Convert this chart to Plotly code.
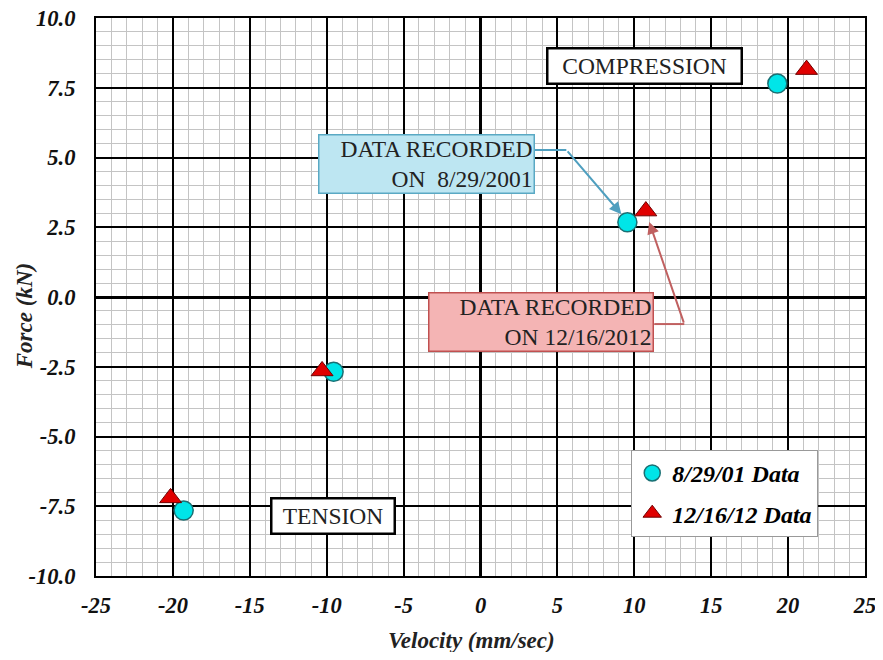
import plotly.graph_objects as go

# Data
vel_2001 = [19.3, 9.55, -9.55, -19.3]
force_2001 = [7.65, 2.68, -2.68, -7.65]
vel_2012 = [21.2, 10.75, -10.3, -20.15]
force_2012 = [8.15, 3.08, -2.65, -7.2]

x_ticks = [-25, -20, -15, -10, -5, 0, 5, 10, 15, 20, 25]
y_ticks = [10.0, 7.5, 5.0, 2.5, 0.0, -2.5, -5.0, -7.5, -10.0]

SERIF = "Liberation Serif, Times New Roman, serif"

fig = go.Figure()
fig.add_trace(go.Scatter(
    x=vel_2001, y=force_2001, mode="markers", name="8/29/01 Data", legendgroup="a",
    marker=dict(symbol="circle", size=19, color="#00e5e8",
                line=dict(color="#1a6f73", width=1.5)),
))
fig.add_trace(go.Scatter(
    x=vel_2012, y=force_2012, mode="markers", name="12/16/12 Data", legendgroup="b",
    marker=dict(symbol="triangle-up", size=19, color="#e00000",
                line=dict(color="#700000", width=1)),
))

tickfont = dict(family=SERIF, size=22.5, color="#111", weight="bold", style="italic")

fig.update_xaxes(
    range=[-25, 25], tickvals=x_ticks, ticktext=[str(v) for v in x_ticks],
    showgrid=True, gridcolor="black", gridwidth=1.6,
    minor=dict(dtick=1, showgrid=True, gridcolor="#c4c4c4", gridwidth=1.3),
    zeroline=True, zerolinecolor="black", zerolinewidth=2.5,
    showline=True, linecolor="black", linewidth=2.2, mirror=True,
    ticks="", tickfont=tickfont, ticklabelstandoff=8, automargin=False,
    ticklabeloverflow="allow",
)
fig.update_yaxes(
    range=[-10, 10], tickvals=y_ticks, ticktext=[f"{v:.1f}" for v in y_ticks],
    showgrid=True, gridcolor="black", gridwidth=1.6,
    minor=dict(dtick=0.5, showgrid=True, gridcolor="#c4c4c4", gridwidth=1.3),
    zeroline=True, zerolinecolor="black", zerolinewidth=2.5,
    showline=True, linecolor="black", linewidth=2.2, mirror=True,
    ticks="", tickfont=tickfont, ticklabelstandoff=14, automargin=False,
    ticklabeloverflow="allow",
)

txtfont = dict(family=SERIF, size=23.5, color="#222")
titlefont = dict(family=SERIF, size=23, color="#222", weight="bold", style="italic")

annotations = [
    dict(x=0.488, y=-0.1147, xref="paper", yref="paper", text="Velocity (mm/sec)",
         showarrow=False, font=titlefont, xanchor="center", yanchor="middle"),
    dict(x=-0.092, y=0.466, xref="paper", yref="paper", text="Force (kN)",
         showarrow=False, font=titlefont, textangle=-90, xanchor="center", yanchor="middle"),
    dict(x=10.68, y=8.28, text="COMPRESSION", showarrow=False, font=txtfont,
         bgcolor="white", bordercolor="black", borderwidth=2.5, borderpad=0,
         width=192, height=33),
    dict(x=-9.61, y=-7.85, text="TENSION", showarrow=False, font=txtfont,
         bgcolor="white", bordercolor="black", borderwidth=2.5, borderpad=0,
         width=121, height=33),
    dict(x=-3.54, y=4.75, text="DATA RECORDED<br>ON  8/29/2001", showarrow=False,
         font=txtfont, align="right", bgcolor="#bde6f2", bordercolor="#5aa9c4",
         borderwidth=1.5, borderpad=1, width=212, height=55),
    dict(x=3.96, y=-0.91, text="DATA RECORDED<br>ON 12/16/2012", showarrow=False,
         font=txtfont, align="right", bgcolor="#f4b4b4", bordercolor="#c05050",
         borderwidth=1.5, borderpad=1, width=221, height=55),
    # arrow heads
    dict(x=9.16, y=2.97, ax=5.58, ay=5.27, axref="x", ayref="y", xref="x", yref="y",
         text="", showarrow=True, arrowhead=2, arrowsize=1.2, arrowwidth=2,
         arrowcolor="#4f9fbf"),
    dict(x=10.97, y=2.69, ax=13.25, ay=-0.97, axref="x", ayref="y", xref="x", yref="y",
         text="", showarrow=True, arrowhead=2, arrowsize=1.2, arrowwidth=2,
         arrowcolor="#c06060"),
]

shapes = [
    dict(type="line", x0=3.51, y0=5.27, x1=5.58, y1=5.27, xref="x", yref="y",
         line=dict(color="#4f9fbf", width=2)),
    dict(type="line", x0=11.30, y0=-0.97, x1=13.25, y1=-0.97, xref="x", yref="y",
         line=dict(color="#c06060", width=2)),
]

# The page body adds an 8px margin, so the figure is sized to fit inside the window.
fig.update_layout(
    width=867, height=644,
    margin=dict(l=88, r=10, t=10, b=76),
    paper_bgcolor="white", plot_bgcolor="white",
    annotations=annotations, shapes=shapes,
    legend=dict(x=0.696, y=0.226, xanchor="left", yanchor="top",
                bgcolor="white", bordercolor="#999", borderwidth=1,
                font=dict(family=SERIF, size=24, color="black", weight="bold", style="italic"),
                itemwidth=30, tracegroupgap=6),
    showlegend=True,
)

fig.write_html("out.html")
